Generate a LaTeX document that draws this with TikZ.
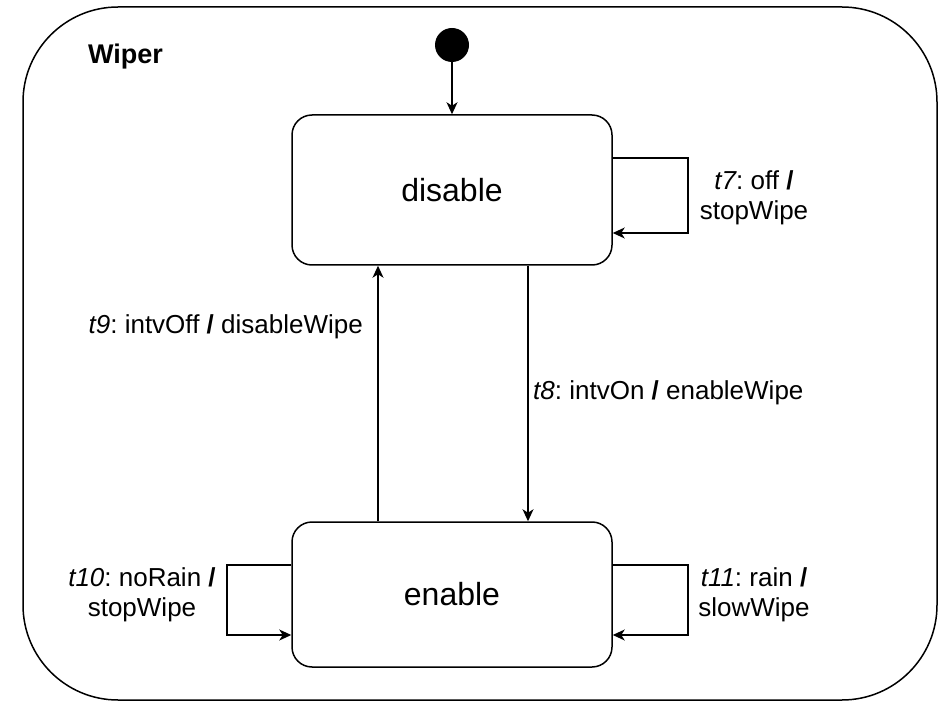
\documentclass[tikz,border=0pt]{standalone}
\usepackage{fontspec}
\setmainfont{Liberation Sans}
\usetikzlibrary{arrows.meta}

% even inter-word spacing after punctuation
\frenchspacing
% trigger name in italics, without italic correction
\newcommand{\trig}[1]{{\itshape #1}}

\begin{document}
\begin{tikzpicture}[x=1pt, y=-1pt,
  container/.style={draw, line width=1.5pt, rounded corners=95pt, minimum width=914pt, minimum height=693pt, inner sep=0pt},
  statebox/.style={draw, line width=1.5pt, rounded corners=20pt, minimum width=320pt, inner sep=0pt, font=\fontsize{32}{38}\selectfont},
  initdot/.style={circle, fill=black, minimum size=34pt, inner sep=0pt},
  trans/.style={-{Stealth[length=12pt, width=11pt, inset=3.5pt]}, line width=1.3pt},
  lbl/.style={font=\fontsize{26}{30.5}\selectfont, align=center, inner sep=0pt}
]
\useasboundingbox (0,0) rectangle (940,703);

% superstate
\node[container] (wiper) at (480,353.5) {};
\node[font=\bfseries\fontsize{27}{31}\selectfont, inner sep=0pt] (title) at (125.5,57) {Wiper};

% states
\node[initdot] (init) at (452,45) {};
\node[statebox, minimum height=150pt] (disable) at (452,190) {disable};
\node[statebox, minimum height=145pt] (enable) at (452,594.5) {enable};

% initial transition
\draw[trans] (init) -- (disable);

% t8 / t9
\draw[trans] (disable.south -| 528,0) -- (enable.north -| 528,0);
\draw[trans] (enable.north -| 378,0) -- (disable.south -| 378,0);
\node[lbl, anchor=east] (l9) at (363,327) {\trig{t9}: intvOff \textbf{/} disableWipe};
\node[lbl, anchor=west] (l8) at (533,393) {\trig{t8}: intvOn \textbf{/} enableWipe};

% self loops
\draw[trans] (disable.east |- 0,158) -- (688,158) -- (688,233) -- (disable.east |- 0,233);
\node[lbl] (l7) at (754,198) {\trig{t7}: off \textbf{/}\\stopWipe};

\draw[trans] (enable.east |- 0,565) -- (688,565) -- (688,635) -- (enable.east |- 0,635);
\node[lbl] (l11) at (754,595) {\trig{t11}: rain \textbf{/}\\slowWipe};

\draw[trans] (enable.west |- 0,565) -- (227,565) -- (227,635) -- (enable.west |- 0,635);
\node[lbl] (l10) at (142,595) {\trig{t10}: noRain \textbf{/}\\stopWipe};
\end{tikzpicture}
\end{document}
